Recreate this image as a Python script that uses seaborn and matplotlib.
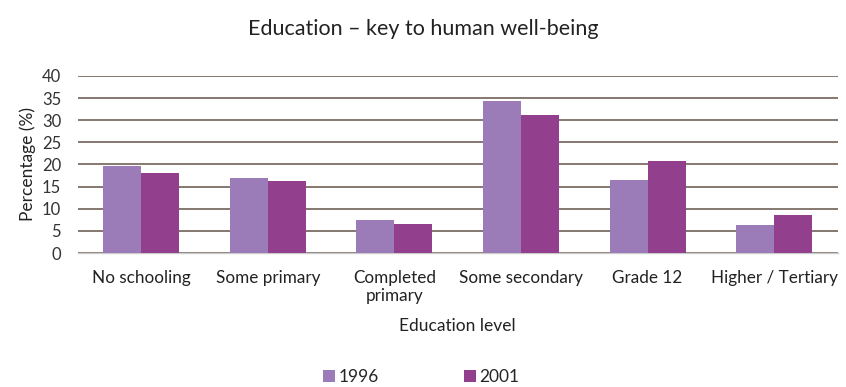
import matplotlib
matplotlib.use("Agg")
import matplotlib.pyplot as plt
import seaborn as sns
import pandas as pd

categories = ["No schooling", "Some primary", "Completed\nprimary",
              "Some secondary", "Grade 12", "Higher / Tertiary"]
values_1996 = [19.7, 17.0, 7.5, 34.3, 16.6, 6.3]
values_2001 = [18.1, 16.2, 6.6, 31.2, 20.7, 8.5]
years = ["1996", "2001"]
yticks = [0, 5, 10, 15, 20, 25, 30, 35, 40]

df = pd.DataFrame({
    "Education level": categories * 2,
    "Percentage": values_1996 + values_2001,
    "Year": [years[0]] * len(categories) + [years[1]] * len(categories),
})

sns.set_theme(style="white")
plt.rcParams["font.family"] = ["Lato", "DejaVu Sans"]

fig = plt.figure(figsize=(8.46, 3.87), dpi=100)
ax = fig.add_axes([0.092, 0.346, 0.898, 0.458])

palette = {"1996": "#9b7cb9", "2001": "#923f8e"}
sns.barplot(data=df, x="Education level", y="Percentage", hue="Year",
            palette=palette, width=0.6, saturation=1, ax=ax, zorder=3,
            linewidth=0, legend=True)

ax.set_ylim(0, 40)
ax.set_yticks(yticks)
ax.set_yticklabels([str(t) for t in yticks], fontsize=12, color="#333333")
ax.set_xlim(-0.5, len(categories) - 0.5)
ax.tick_params(axis="x", labelsize=12.3, colors="#222222", length=0, pad=12)
ax.tick_params(axis="y", length=0, pad=12)
for lbl in ax.get_xticklabels():
    lbl.set_linespacing(1.15)

ax.yaxis.grid(True, color="#857870", linewidth=1.4, zorder=0)
ax.set_axisbelow(True)
for s in ["top", "right", "left"]:
    ax.spines[s].set_visible(False)
ax.spines["bottom"].set_color("#cccccc")
ax.spines["bottom"].set_linewidth(1.0)

ax.set_ylabel("Percentage (%)", fontsize=12.5, color="#222222", labelpad=4)
ax.set_xlabel("Education level", fontsize=12.5, color="#222222", labelpad=10)

fig.suptitle("Education \u2013 key to human well-being", fontsize=15.5,
             color="#222222", y=0.95)

handles, labels = ax.get_legend_handles_labels()
ax.get_legend().remove()
fig.legend(handles, labels, loc="lower center", bbox_to_anchor=(0.498, -0.035),
           ncol=2, frameon=False, fontsize=12.5, handlelength=0.7,
           handleheight=0.7, handletextpad=0.2, columnspacing=4.9)

fig.savefig("out.png", dpi=100)
